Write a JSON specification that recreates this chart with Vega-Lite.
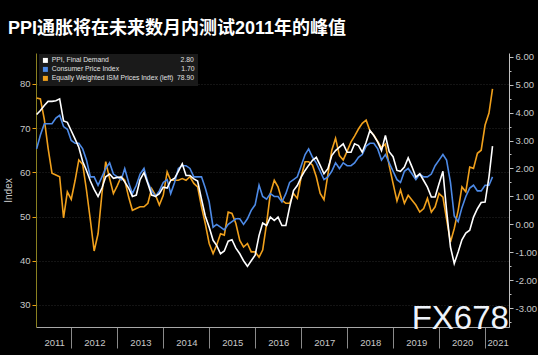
{
  "$schema": "https://vega.github.io/schema/vega-lite/v6.json",
  "width": 473,
  "height": 274,
  "autosize": {"type": "none"},
  "padding": {"left": 36, "top": 53, "right": 29, "bottom": 28},
  "background": "#000000",
  "title": {
    "text": "PPI通胀将在未来数月内测试2011年的峰值",
    "anchor": "start",
    "frame": "group",
    "dx": -28,
    "offset": 14,
    "font": "Liberation Sans, Noto Sans CJK SC",
    "fontSize": 18,
    "fontWeight": "bold",
    "color": "#ffffff"
  },
  "config": {
    "view": {"stroke": null},
    "font": "Liberation Sans",
    "axis": {"labelFont": "Liberation Sans", "titleFont": "Liberation Sans"}
  },
  "data": {
    "values": [
      {"d":"2011-03-31","ppi":3.93,"cpi":2.7,"ism":76.8},
      {"d":"2011-04-30","ppi":4.07,"cpi":3.2,"ism":76.6},
      {"d":"2011-05-31","ppi":4.25,"cpi":3.6,"ism":72.0},
      {"d":"2011-06-30","ppi":4.40,"cpi":3.6,"ism":65.5},
      {"d":"2011-07-31","ppi":4.40,"cpi":3.6,"ism":59.8},
      {"d":"2011-08-31","ppi":4.42,"cpi":3.8,"ism":59.4},
      {"d":"2011-09-30","ppi":4.49,"cpi":3.9,"ism":59.0},
      {"d":"2011-10-31","ppi":3.70,"cpi":3.5,"ism":49.7},
      {"d":"2011-11-30","ppi":3.65,"cpi":3.4,"ism":55.6},
      {"d":"2011-12-31","ppi":3.35,"cpi":3.0,"ism":53.9},
      {"d":"2012-01-31","ppi":3.05,"cpi":2.9,"ism":58.2},
      {"d":"2012-02-29","ppi":2.76,"cpi":2.9,"ism":62.8},
      {"d":"2012-03-31","ppi":2.25,"cpi":2.7,"ism":61.8},
      {"d":"2012-04-30","ppi":1.93,"cpi":2.3,"ism":56.0},
      {"d":"2012-05-31","ppi":1.55,"cpi":1.7,"ism":49.2},
      {"d":"2012-06-30","ppi":1.25,"cpi":1.7,"ism":42.2},
      {"d":"2012-07-31","ppi":1.00,"cpi":1.4,"ism":46.1},
      {"d":"2012-08-31","ppi":1.30,"cpi":1.7,"ism":55.2},
      {"d":"2012-09-30","ppi":1.70,"cpi":2.0,"ism":62.4},
      {"d":"2012-10-31","ppi":1.80,"cpi":2.2,"ism":58.6},
      {"d":"2012-11-30","ppi":1.65,"cpi":1.8,"ism":55.2},
      {"d":"2012-12-31","ppi":1.68,"cpi":1.7,"ism":57.0},
      {"d":"2013-01-31","ppi":1.69,"cpi":1.6,"ism":59.0},
      {"d":"2013-02-28","ppi":1.52,"cpi":2.0,"ism":58.2},
      {"d":"2013-03-31","ppi":1.30,"cpi":1.5,"ism":54.4},
      {"d":"2013-04-30","ppi":1.00,"cpi":1.1,"ism":51.4},
      {"d":"2013-05-31","ppi":1.05,"cpi":1.4,"ism":51.8},
      {"d":"2013-06-30","ppi":1.60,"cpi":1.8,"ism":52.2},
      {"d":"2013-07-31","ppi":1.85,"cpi":2.0,"ism":52.2},
      {"d":"2013-08-31","ppi":1.45,"cpi":1.5,"ism":53.0},
      {"d":"2013-09-30","ppi":1.05,"cpi":1.2,"ism":56.3},
      {"d":"2013-10-31","ppi":1.00,"cpi":1.0,"ism":54.8},
      {"d":"2013-11-30","ppi":1.10,"cpi":1.2,"ism":52.6},
      {"d":"2013-12-31","ppi":1.33,"cpi":1.5,"ism":54.8},
      {"d":"2014-01-31","ppi":1.30,"cpi":1.6,"ism":60.1},
      {"d":"2014-02-28","ppi":1.57,"cpi":1.1,"ism":58.2},
      {"d":"2014-03-31","ppi":1.65,"cpi":1.5,"ism":58.2},
      {"d":"2014-04-30","ppi":1.90,"cpi":2.0,"ism":58.2},
      {"d":"2014-05-31","ppi":2.17,"cpi":2.1,"ism":58.6},
      {"d":"2014-06-30","ppi":1.75,"cpi":2.1,"ism":58.2},
      {"d":"2014-07-31","ppi":1.75,"cpi":2.0,"ism":59.0},
      {"d":"2014-08-31","ppi":1.63,"cpi":1.7,"ism":57.5},
      {"d":"2014-09-30","ppi":1.55,"cpi":1.7,"ism":56.7},
      {"d":"2014-10-31","ppi":0.90,"cpi":1.7,"ism":52.2},
      {"d":"2014-11-30","ppi":0.30,"cpi":1.3,"ism":48.4},
      {"d":"2014-12-31","ppi":-0.10,"cpi":0.8,"ism":43.9},
      {"d":"2015-01-31","ppi":-0.57,"cpi":-0.1,"ism":41.6},
      {"d":"2015-02-28","ppi":-0.75,"cpi":0.0,"ism":43.5},
      {"d":"2015-03-31","ppi":-1.05,"cpi":-0.1,"ism":46.1},
      {"d":"2015-04-30","ppi":-0.95,"cpi":-0.2,"ism":45.8},
      {"d":"2015-05-31","ppi":-0.60,"cpi":0.0,"ism":51.0},
      {"d":"2015-06-30","ppi":-0.55,"cpi":0.1,"ism":50.7},
      {"d":"2015-07-31","ppi":-0.85,"cpi":0.2,"ism":48.4},
      {"d":"2015-08-31","ppi":-1.05,"cpi":0.2,"ism":44.6},
      {"d":"2015-09-30","ppi":-1.30,"cpi":0.0,"ism":43.1},
      {"d":"2015-10-31","ppi":-1.50,"cpi":0.2,"ism":43.9},
      {"d":"2015-11-30","ppi":-1.30,"cpi":0.5,"ism":42.0},
      {"d":"2015-12-31","ppi":-1.10,"cpi":0.7,"ism":42.0},
      {"d":"2016-01-31","ppi":-0.40,"cpi":1.4,"ism":40.8},
      {"d":"2016-02-29","ppi":0.05,"cpi":1.0,"ism":42.4},
      {"d":"2016-03-31","ppi":-0.04,"cpi":0.9,"ism":48.4},
      {"d":"2016-04-30","ppi":0.26,"cpi":1.1,"ism":55.2},
      {"d":"2016-05-31","ppi":0.14,"cpi":1.0,"ism":58.2},
      {"d":"2016-06-30","ppi":0.26,"cpi":1.0,"ism":56.7},
      {"d":"2016-07-31","ppi":-0.04,"cpi":0.8,"ism":53.7},
      {"d":"2016-08-31","ppi":-0.04,"cpi":1.1,"ism":53.0},
      {"d":"2016-09-30","ppi":0.62,"cpi":1.5,"ism":53.0},
      {"d":"2016-10-31","ppi":1.21,"cpi":1.6,"ism":55.2},
      {"d":"2016-11-30","ppi":1.39,"cpi":1.7,"ism":54.1},
      {"d":"2016-12-31","ppi":1.69,"cpi":2.1,"ism":59.0},
      {"d":"2017-01-31","ppi":1.93,"cpi":2.5,"ism":62.4},
      {"d":"2017-02-28","ppi":2.11,"cpi":2.7,"ism":62.4},
      {"d":"2017-03-31","ppi":2.29,"cpi":2.4,"ism":61.6},
      {"d":"2017-04-30","ppi":2.40,"cpi":2.2,"ism":59.0},
      {"d":"2017-05-31","ppi":2.11,"cpi":1.9,"ism":55.2},
      {"d":"2017-06-30","ppi":1.81,"cpi":1.6,"ism":53.8},
      {"d":"2017-07-31","ppi":1.99,"cpi":1.7,"ism":59.5},
      {"d":"2017-08-31","ppi":2.46,"cpi":1.9,"ism":65.0},
      {"d":"2017-09-30","ppi":2.64,"cpi":2.2,"ism":67.7},
      {"d":"2017-10-31","ppi":2.76,"cpi":2.0,"ism":63.8},
      {"d":"2017-11-30","ppi":2.88,"cpi":2.2,"ism":62.8},
      {"d":"2017-12-31","ppi":2.58,"cpi":2.1,"ism":64.8},
      {"d":"2018-01-31","ppi":2.58,"cpi":2.1,"ism":66.9},
      {"d":"2018-02-28","ppi":2.88,"cpi":2.2,"ism":68.2},
      {"d":"2018-03-31","ppi":2.82,"cpi":2.4,"ism":69.8},
      {"d":"2018-04-30","ppi":2.58,"cpi":2.5,"ism":71.1},
      {"d":"2018-05-31","ppi":2.94,"cpi":2.8,"ism":71.8},
      {"d":"2018-06-30","ppi":3.36,"cpi":2.9,"ism":69.4},
      {"d":"2018-07-31","ppi":3.18,"cpi":2.9,"ism":68.4},
      {"d":"2018-08-31","ppi":2.94,"cpi":2.7,"ism":67.0},
      {"d":"2018-09-30","ppi":2.64,"cpi":2.3,"ism":65.6},
      {"d":"2018-10-31","ppi":3.18,"cpi":2.5,"ism":66.4},
      {"d":"2018-11-30","ppi":2.60,"cpi":2.2,"ism":61.5},
      {"d":"2018-12-31","ppi":2.42,"cpi":1.9,"ism":57.5},
      {"d":"2019-01-31","ppi":1.93,"cpi":1.6,"ism":53.5},
      {"d":"2019-02-28","ppi":1.90,"cpi":1.5,"ism":56.0},
      {"d":"2019-03-31","ppi":2.05,"cpi":1.9,"ism":53.0},
      {"d":"2019-04-30","ppi":2.38,"cpi":2.0,"ism":54.8},
      {"d":"2019-05-31","ppi":2.05,"cpi":1.8,"ism":53.7},
      {"d":"2019-06-30","ppi":1.69,"cpi":1.6,"ism":52.6},
      {"d":"2019-07-31","ppi":1.81,"cpi":1.8,"ism":51.0},
      {"d":"2019-08-31","ppi":1.57,"cpi":1.7,"ism":51.8},
      {"d":"2019-09-30","ppi":1.33,"cpi":1.7,"ism":54.1},
      {"d":"2019-10-31","ppi":0.98,"cpi":1.8,"ism":51.0},
      {"d":"2019-11-30","ppi":0.98,"cpi":2.1,"ism":52.2},
      {"d":"2019-12-31","ppi":1.45,"cpi":2.3,"ism":55.2},
      {"d":"2020-01-31","ppi":1.90,"cpi":2.5,"ism":54.4},
      {"d":"2020-02-29","ppi":0.50,"cpi":2.3,"ism":49.4},
      {"d":"2020-03-31","ppi":-0.81,"cpi":1.5,"ism":44.2},
      {"d":"2020-04-30","ppi":-1.40,"cpi":0.3,"ism":47.3},
      {"d":"2020-05-31","ppi":-0.99,"cpi":0.1,"ism":51.4},
      {"d":"2020-06-30","ppi":-0.55,"cpi":0.6,"ism":56.7},
      {"d":"2020-07-31","ppi":-0.31,"cpi":1.0,"ism":55.6},
      {"d":"2020-08-31","ppi":-0.21,"cpi":1.3,"ism":61.2},
      {"d":"2020-09-30","ppi":0.26,"cpi":1.4,"ism":60.9},
      {"d":"2020-10-31","ppi":0.56,"cpi":1.2,"ism":64.3},
      {"d":"2020-11-30","ppi":0.78,"cpi":1.2,"ism":65.0},
      {"d":"2020-12-31","ppi":0.80,"cpi":1.4,"ism":70.7},
      {"d":"2021-01-31","ppi":1.70,"cpi":1.4,"ism":73.4},
      {"d":"2021-02-28","ppi":2.80,"cpi":1.7,"ism":78.9}
    ]
  },
  "layer": [
    {
      "layer": [
        {
          "mark": {"type": "line", "strokeWidth": 1.6},
          "encoding": {
            "x": {
              "field": "d", "type": "temporal",
              "scale": {"domain": [{"year": 2011, "month": 3, "date": 26}, {"year": 2021, "month": 7, "date": 9}]},
              "axis": {
                "orient": "bottom", "title": null, "grid": false,
                "values": [{"year": 2011, "month": 3, "date": 27}, {"year": 2012, "month": 1, "date": 1}, {"year": 2013, "month": 1, "date": 1}, {"year": 2014, "month": 1, "date": 1}, {"year": 2015, "month": 1, "date": 1}, {"year": 2016, "month": 1, "date": 1}, {"year": 2017, "month": 1, "date": 1}, {"year": 2018, "month": 1, "date": 1}, {"year": 2019, "month": 1, "date": 1}, {"year": 2020, "month": 1, "date": 1}, {"year": 2021, "month": 1, "date": 1}],
                "format": "%Y",
                "tickSize": 21, "tickColor": "#8a8a8a", "tickWidth": 1,
                "tickOpacity": {"condition": {"test": "year(datum.value) == 2011", "value": 0}, "value": 1},
                "domainColor": "#a8a8a8", "domainWidth": 1,
                "labelColor": "#c8c8c8", "labelFontSize": 9.5, "labelPadding": -11, "labelFlush": false, "labelOverlap": false,
                "labelOffset": {"condition": {"test": "year(datum.value) == 2011", "value": 18}, "value": 23},
                "labelAlign": {"condition": {"test": "year(datum.value) == 2021", "value": "right"}, "value": "center"}
              }
            },
            "y": {
              "field": "ism", "type": "quantitative",
              "scale": {"domain": [25, 87], "nice": false, "zero": false},
              "axis": {
                "orient": "left",
                "values": [30, 35, 40, 45, 50, 55, 60, 65, 70, 75, 80, 85],
                "labelExpr": "datum.value % 10 == 0 && datum.value <= 80 ? datum.label : ''",
                "title": "Index", "titleColor": "#c8c8c8", "titleFontSize": 10, "titleFontWeight": "normal", "titlePadding": 6,
                "labelColor": "#c8c8c8", "labelFontSize": 9.5, "labelPadding": 2,
                "tickColor": "#e8a010", "tickWidth": 1,
                "tickSize": {"condition": {"test": "datum.value % 10 == 0", "value": 4}, "value": 2},
                "domainColor": "#8a8020",
                "grid": true, "gridColor": "#333333", "gridDash": [1, 2],
                "gridOpacity": {"condition": {"test": "datum.value % 10 == 0 && datum.value <= 80", "value": 0.8}, "value": 0}
              }
            },
            "color": {
              "datum": "Equally Weighted ISM Prices Index (left)", "type": "nominal",
              "scale": {"domain": ["PPI, Final Demand", "Consumer Price Index", "Equally Weighted ISM Prices Index (left)"], "range": ["#ffffff", "#4d8ae6", "#f0a01c"]},
              "legend": {
                "orient": "none", "legendX": 3, "legendY": 1, "title": null,
                "symbolType": "square", "symbolSize": 25, "symbolStrokeWidth": 0,
                "labelFont": "Liberation Sans", "labelFontSize": 6.8, "labelColor": "#e0e0e0", "labelLimit": 0, "labelOffset": 3,
                "fillColor": "#1a1a1a", "padding": 3, "rowPadding": 1,
                "labelExpr": "datum.label == 'PPI, Final Demand' ? 'PPI, Final Demand\u00a0\u00a0\u00a0\u00a0\u00a0\u00a0\u00a0\u00a0\u00a0\u00a0\u00a0\u00a0\u00a0\u00a0\u00a0\u00a0\u00a0\u00a0\u00a0\u00a0\u00a0\u00a0\u00a0\u00a0\u00a0\u00a0\u00a0\u00a0\u00a0\u00a0\u00a0\u00a0\u00a0\u00a0\u00a0\u00a0\u00a0\u00a02.80' : datum.label == 'Consumer Price Index' ? 'Consumer Price Index\u00a0\u00a0\u00a0\u00a0\u00a0\u00a0\u00a0\u00a0\u00a0\u00a0\u00a0\u00a0\u00a0\u00a0\u00a0\u00a0\u00a0\u00a0\u00a0\u00a0\u00a0\u00a0\u00a0\u00a0\u00a0\u00a0\u00a0\u00a0\u00a0\u00a0\u00a0\u00a0\u00a01.70' : 'Equally Weighted ISM Prices Index (left)\u00a0\u00a078.90'",
                "encode": {"symbols": {"update": {"fill": {"scale": "color", "field": "value"}, "fillOpacity": {"value": 1}, "strokeWidth": {"value": 0}}}}
              }
            }
          }
        },
        {
          "data": {"values": [{"wm": "FX678"}]},
          "mark": {"type": "text", "font": "Liberation Sans", "fontSize": 33, "align": "right", "baseline": "alphabetic", "color": "#eef3fa"},
          "encoding": {
            "text": {"field": "wm"},
            "x": {"datum": {"year": 2021, "month": 7, "date": 8}, "type": "temporal"},
            "y": {"datum": 24.6, "type": "quantitative"}
          }
        }
      ]
    },
    {
      "layer": [
        {
          "mark": {"type": "line", "strokeWidth": 1.6},
          "encoding": {
            "y": {"field": "cpi", "type": "quantitative"},
            "color": {"datum": "Consumer Price Index", "type": "nominal"}
          }
        },
        {
          "mark": {"type": "line", "strokeWidth": 1.6},
          "encoding": {
            "y": {"field": "ppi", "type": "quantitative"},
            "color": {"datum": "PPI, Final Demand", "type": "nominal"}
          }
        }
      ],
      "encoding": {
        "x": {"field": "d", "type": "temporal"},
        "y": {
          "type": "quantitative",
          "scale": {"domain": [-3.67, 6.13], "nice": false, "zero": false},
          "axis": {"orient": "right", "title": null, "values": [-3.5, -3, -2.5, -2, -1.5, -1, -0.5, 0, 0.5, 1, 1.5, 2, 2.5, 3, 3.5, 4, 4.5, 5, 5.5, 6], "format": ".2f",
            "labelExpr": "datum.value % 1 == 0 ? replace(datum.label, '\u2212', '-') : ''",
            "labelColor": "#c8c8c8", "labelFontSize": 9.5, "labelPadding": 2, "tickColor": "#c0c0c0", "tickWidth": 1,
            "tickSize": {"condition": {"test": "datum.value % 1 == 0", "value": 4}, "value": 2},
            "domainColor": "#c0c0c0", "grid": false}
        }
      }
    }
  ],
  "resolve": {"scale": {"y": "independent"}}
}
